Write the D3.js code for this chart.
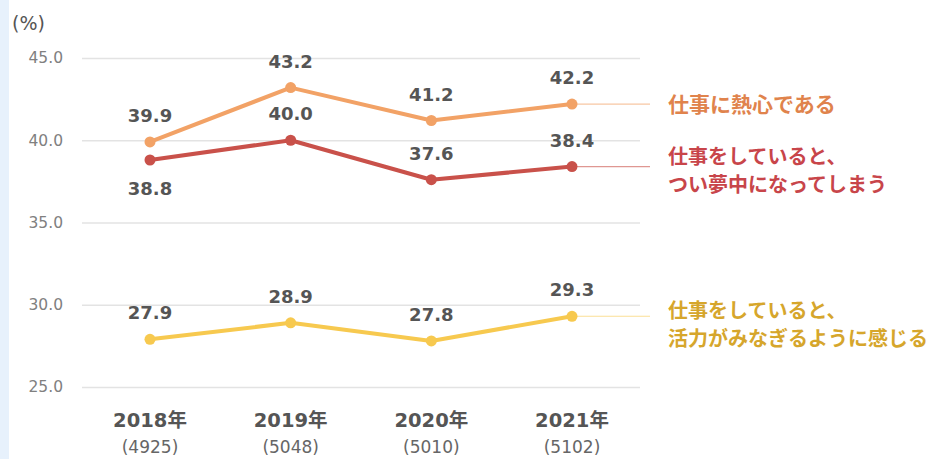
<!DOCTYPE html>
<html lang="ja">
<head>
    <meta charset="UTF-8">
    <title>仕事への熱意</title>
    <script src="https://d3js.org/d3.v7.min.js"></script>
    <style>
        body { margin: 0; background: #fff; }
        .num { font-family: "DejaVu Sans", "Noto Sans CJK JP", sans-serif; }
        .jp { font-family: "Noto Sans CJK JP", sans-serif; }
    </style>
</head>
<body>
<svg id="chart"></svg>

<script>
    // data
    let years = ["2018年", "2019年", "2020年", "2021年"];
    let sampleSizes = ["(4925)", "(5048)", "(5010)", "(5102)"];
    let enthusiastic = [39.9, 43.2, 41.2, 42.2];
    let absorbed = [38.8, 40.0, 37.6, 38.4];
    let vigor = [27.9, 28.9, 27.8, 29.3];
    let yTicks = [25, 30, 35, 40, 45];

    let width = 927,
        height = 459;

    let svg = d3.select("#chart")
        .attr("width", width)
        .attr("height", height);

    // light blue strip on the left edge
    svg.append("rect")
        .attr("x", 0).attr("y", 0)
        .attr("width", 9).attr("height", height)
        .attr("fill", "#e7f1fc");

    let x = d3.scalePoint()
        .domain(years)
        .range([150, 572]);

    let y = d3.scaleLinear()
        .domain([25, 45])
        .range([387, 58]);

    // grid + tick labels
    let yAxis = svg.append("g")
        .attr("transform", "translate(82,0)")
        .call(d3.axisLeft(y)
            .tickValues(yTicks)
            .tickFormat(d3.format(".1f"))
            .tickSize(-558)
            .tickPadding(19));
    yAxis.select(".domain").remove();
    yAxis.selectAll(".tick line")
        .attr("stroke", "#e3e3e3")
        .attr("stroke-width", 1.5);
    yAxis.selectAll(".tick text")
        .attr("class", "num")
        .attr("font-size", 15.5)
        .attr("fill", "#808080");

    svg.append("text")
        .attr("class", "num")
        .attr("x", 12)
        .attr("y", 30)
        .attr("font-size", 19)
        .attr("fill", "#555")
        .text("(%)");

    // x labels
    svg.selectAll(".year")
        .data(years)
        .enter().append("text")
        .attr("class", "num")
        .attr("x", d => x(d))
        .attr("y", 427)
        .attr("text-anchor", "middle")
        .attr("font-size", 19.5)
        .attr("font-weight", "bold")
        .attr("fill", "#555")
        .text(d => d);

    svg.selectAll(".n")
        .data(sampleSizes)
        .enter().append("text")
        .attr("class", "num")
        .attr("x", (d, i) => x(years[i]))
        .attr("y", 453)
        .attr("text-anchor", "middle")
        .attr("font-size", 17)
        .attr("fill", "#666")
        .text(d => d);

    let series = [
        {values: enthusiastic, line: "#f2a266", text: "#e0834c", label: ["仕事に熱心である"], size: 21, below: [], ly: [104]},
        {values: absorbed, line: "#c9514a", text: "#c8454a", label: ["仕事をしていると、", "つい夢中になってしまう"], size: 20, below: [0], ly: [157, 185]},
        {values: vigor, line: "#f7c94f", text: "#d6a62c", label: ["仕事をしていると、", "活力がみなぎるように感じる"], size: 20, below: [], ly: [311, 339]}
    ];

    let line = d3.line()
        .x((d, i) => x(years[i]))
        .y(d => y(d));

    series.forEach(function (s) {
        let last = s.values[s.values.length - 1];

        // leader line to the label
        svg.append("line")
            .attr("x1", x(years[years.length - 1]))
            .attr("x2", 650)
            .attr("y1", y(last))
            .attr("y2", y(last))
            .attr("stroke", s.line)
            .attr("stroke-opacity", 0.6)
            .attr("stroke-width", 1.2);

        svg.append("path")
            .datum(s.values)
            .attr("d", line)
            .attr("fill", "none")
            .attr("stroke", s.line)
            .attr("stroke-width", 4)
            .attr("stroke-linejoin", "round");

        svg.selectAll(null)
            .data(s.values)
            .enter().append("circle")
            .attr("cx", (d, i) => x(years[i]))
            .attr("cy", d => y(d))
            .attr("r", 5.5)
            .attr("fill", s.line);

        svg.selectAll(null)
            .data(s.values)
            .enter().append("text")
            .attr("class", "num")
            .attr("x", (d, i) => x(years[i]))
            .attr("y", (d, i) => s.below.indexOf(i) >= 0 ? y(d) + 35 : y(d) - 20)
            .attr("text-anchor", "middle")
            .attr("font-size", 18)
            .attr("font-weight", "bold")
            .attr("fill", "#555")
            .text(d => d.toFixed(1));

        s.label.forEach(function (t, j) {
            svg.append("text")
                .attr("class", "jp")
                .attr("x", 668)
                .attr("y", s.ly[j])
                .attr("dy", "0.36em")
                .attr("font-size", s.size)
                .attr("font-weight", "bold")
                .attr("fill", s.text)
                .text(t);
        });
    });
</script>
</body>
</html>
